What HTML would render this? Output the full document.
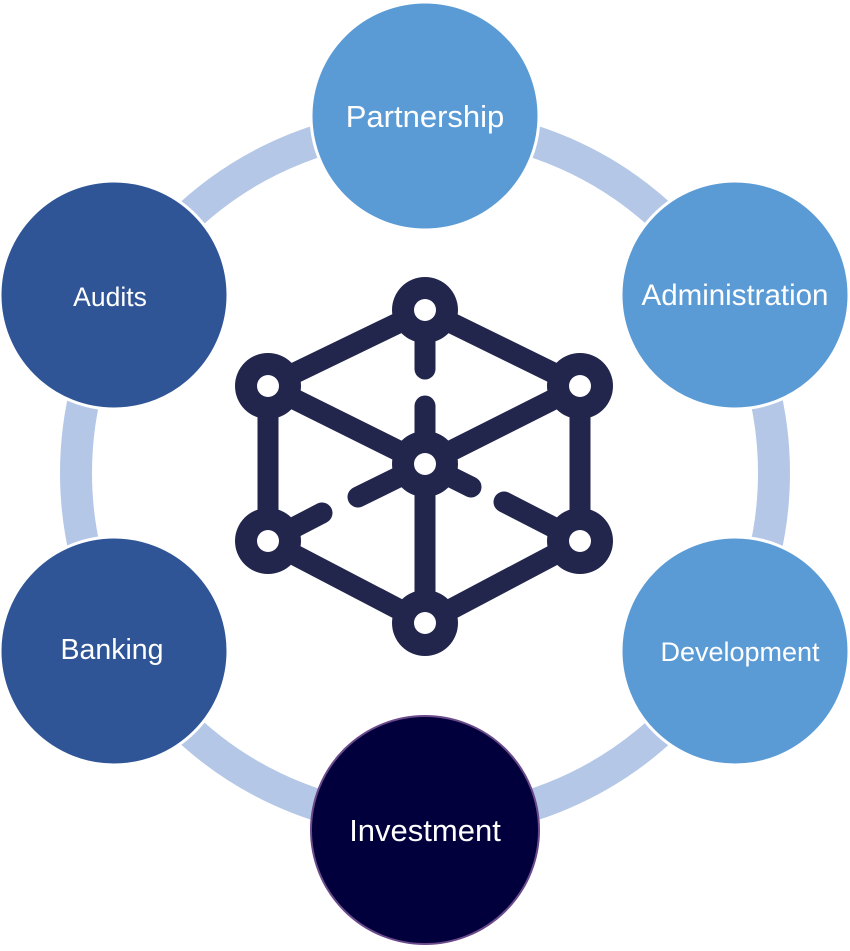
<!DOCTYPE html>
<html><head><style>
html,body{margin:0;padding:0;background:#fff;}
</style></head><body>
<svg width="850" height="946" viewBox="0 0 850 946" xmlns="http://www.w3.org/2000/svg">
<circle cx="425" cy="473" r="349" fill="none" stroke="#b4c7e7" stroke-width="32"/>
<g stroke="#fff" stroke-width="3">
<circle cx="425" cy="116" r="114" fill="#5b9bd5"/>
<circle cx="735" cy="295" r="114" fill="#5b9bd5"/>
<circle cx="735" cy="651" r="114" fill="#5b9bd5"/>
<circle cx="425" cy="830" r="114" fill="#01003c" stroke="#6a4a8a" stroke-width="2"/>
<circle cx="114" cy="651" r="114" fill="#2f5597"/>
<circle cx="114" cy="295" r="114" fill="#2f5597"/>
</g>
<g font-family="Liberation Sans, sans-serif" fill="#fff" text-anchor="middle">
<text x="425" y="127" font-size="31">Partnership</text>
<text x="735" y="305" font-size="29.5">Administration</text>
<text x="740" y="661" font-size="27">Development</text>
<text x="425" y="841" font-size="31">Investment</text>
<text x="112" y="659" font-size="28.5">Banking</text>
<text x="110" y="306" font-size="26.5">Audits</text>
</g>
<g stroke="#23264c" stroke-width="21" stroke-linecap="round" fill="none">
<polyline points="268,386 425,310 580,386 580,541 425,623 268,541 268,386"/>
<line x1="268" y1="386" x2="425" y2="464"/>
<line x1="580" y1="386" x2="425" y2="464"/>
<line x1="425" y1="464" x2="425" y2="623"/>
<line x1="425" y1="310" x2="425" y2="369"/>
<line x1="425" y1="406" x2="425" y2="464"/>
<line x1="425" y1="464" x2="358" y2="497"/>
<line x1="425" y1="464" x2="471" y2="487"/>
<line x1="268" y1="541" x2="322" y2="513"/>
<line x1="504" y1="502" x2="580" y2="541"/>
</g>
<g fill="#23264c">
<circle cx="425" cy="310" r="33"/><circle cx="268" cy="386" r="33"/><circle cx="580" cy="386" r="33"/>
<circle cx="425" cy="464" r="33"/><circle cx="268" cy="541" r="33"/><circle cx="580" cy="541" r="33"/>
<circle cx="425" cy="623" r="33"/>
</g>
<g fill="#fff">
<circle cx="425" cy="310" r="11"/><circle cx="268" cy="386" r="11"/><circle cx="580" cy="386" r="11"/>
<circle cx="425" cy="464" r="11"/><circle cx="268" cy="541" r="11"/><circle cx="580" cy="541" r="11"/>
<circle cx="425" cy="623" r="11"/>
</g>
</svg>
</body></html>
